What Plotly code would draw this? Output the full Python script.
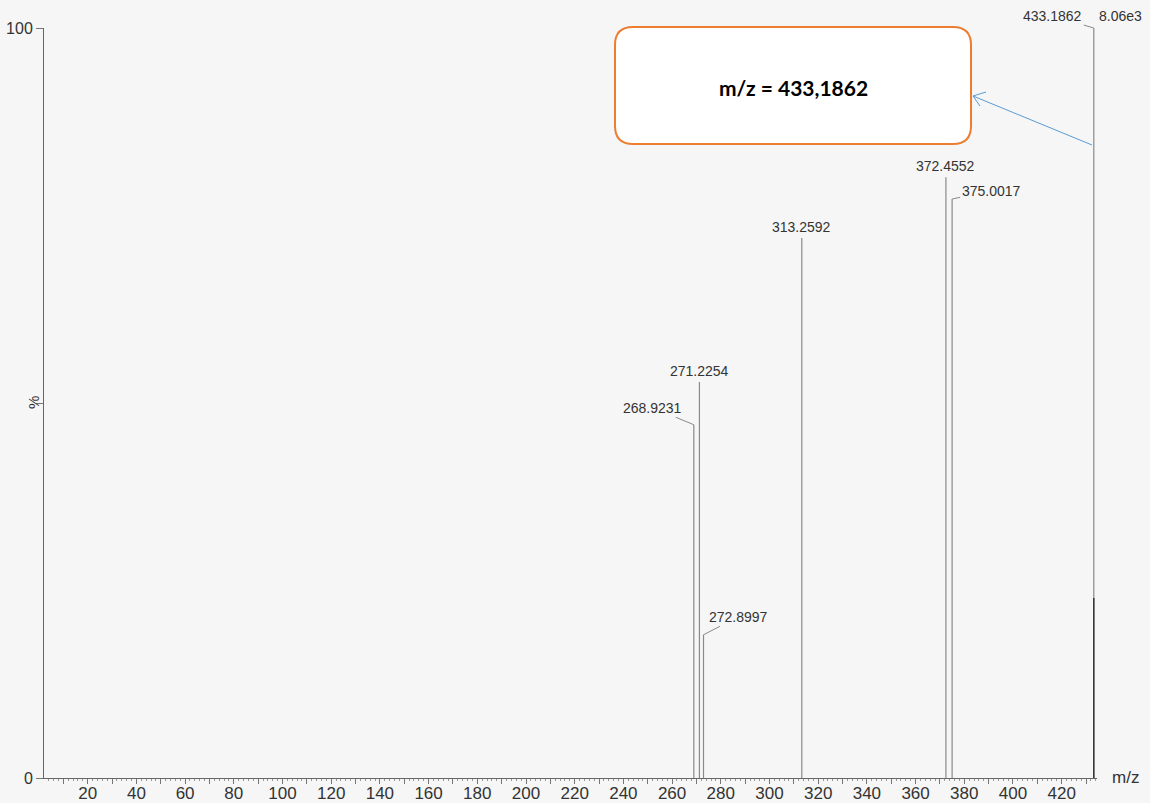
import plotly.graph_objects as go

# Centroided peaks: m/z and relative intensity (%)
peak_mz = [268.9231, 271.2254, 272.8997, 313.2592, 372.4552, 375.0017, 433.1862]
peak_int = [47.1, 52.8, 19.1, 72.0, 80.1, 77.2, 100.0]
peak_labels = ["268.9231", "271.2254", "272.8997", "313.2592", "372.4552", "375.0017", "433.1862"]
# label offsets in pixels (dx, dy); (0, 0) means label sits straight above the peak
label_offsets = [(-41, -17), (0, 0), (35, -18), (0, 0), (0, 0), (39, -8), (-41, -12)]

# darker overlapping trace at the base peak
overlay_mz = [433.1862]
overlay_int = [24.0]

base_intensity = "8.06e3"
callout_text = "m/z = 433,1862"

x_tick_vals = list(range(10, 431, 10))
x_tick_text = [str(v) if v % 20 == 0 else "" for v in x_tick_vals]

W, H = 1150, 803
L, R, T, B = 44, 53, 28, 25
PW, PH = W - L - R, H - T - B


def px(x):
    return (x - L) / PW


def py(y):
    return (H - B - y) / PH


def stems(xs, ys):
    sx, sy = [], []
    for x, y in zip(xs, ys):
        sx += [x, x, None]
        sy += [0, y, None]
    return sx, sy


fig = go.Figure()

sx, sy = stems(peak_mz, peak_int)
fig.add_trace(go.Scatter(x=sx, y=sy, mode="lines",
                         line=dict(color="#8a8a8a", width=1.2),
                         hoverinfo="skip", showlegend=False, cliponaxis=False))
ox, oy = stems(overlay_mz, overlay_int)
fig.add_trace(go.Scatter(x=ox, y=oy, mode="lines",
                         line=dict(color="#2e2e2e", width=1.4),
                         hoverinfo="skip", showlegend=False, cliponaxis=False))

FAM = "Liberation Sans, Arial, sans-serif"
font = dict(family=FAM, size=14, color="#333333")

for m, h, lab, (dx, dy) in zip(peak_mz, peak_int, peak_labels, label_offsets):
    if dx == 0 and dy == 0:
        fig.add_annotation(x=m, y=h, text=lab, showarrow=False, yanchor="bottom",
                           xanchor="center", yshift=1, font=font)
    else:
        fig.add_annotation(x=m, y=h, text=lab, showarrow=True, arrowhead=0,
                           arrowwidth=1, arrowcolor="#8a8a8a", ax=dx, ay=dy,
                           standoff=0, font=font)


def paper_text(x, y, text, fnt, **kw):
    fig.add_annotation(xref="paper", yref="paper", x=px(x), y=py(y), text=text,
                       xanchor="center", yanchor="middle", showarrow=False,
                       font=fnt, **kw)


paper_text(1120, 16, base_intensity, font)
paper_text(1125, 777, "m/z", dict(family=FAM, size=17, color="#333333"))
paper_text(33, 403, "%", dict(family=FAM, size=15, color="#333333"), textangle=-90)

# callout box with rounded corners
x0, x1, y0, y1, r = 615, 971, 27, 144, 18
path = (f"M {px(x0 + r)} {py(y0)} L {px(x1 - r)} {py(y0)} "
        f"Q {px(x1)} {py(y0)} {px(x1)} {py(y0 + r)} "
        f"L {px(x1)} {py(y1 - r)} Q {px(x1)} {py(y1)} {px(x1 - r)} {py(y1)} "
        f"L {px(x0 + r)} {py(y1)} Q {px(x0)} {py(y1)} {px(x0)} {py(y1 - r)} "
        f"L {px(x0)} {py(y0 + r)} Q {px(x0)} {py(y0)} {px(x0 + r)} {py(y0)} Z")
fig.add_shape(type="path", path=path, xref="paper", yref="paper",
              line=dict(color="#ED7D31", width=2), fillcolor="white", layer="above")
paper_text((x0 + x1) / 2, 88, f"<b>{callout_text}</b>",
           dict(family="Lato, Open Sans, sans-serif", size=21, color="#000000"))

# pointer arrow from the base peak to the callout
tail = (1092, 145)
head = (973, 96)
fig.add_shape(type="line", xref="paper", yref="paper",
              x0=px(tail[0]), y0=py(tail[1]), x1=px(head[0]), y1=py(head[1]),
              line=dict(color="#5B9BD5", width=1))
fig.add_shape(type="path", xref="paper", yref="paper",
              path=(f"M {px(head[0] + 13)} {py(head[1] - 4)} L {px(head[0])} {py(head[1])} "
                    f"L {px(head[0] + 7)} {py(head[1] + 10)}"),
              line=dict(color="#5B9BD5", width=1))

fig.update_layout(
    width=W, height=H,
    margin=dict(l=L, r=R, t=T, b=B, autoexpand=False),
    paper_bgcolor="#f6f6f6", plot_bgcolor="#f6f6f6",
    showlegend=False,
    xaxis=dict(range=[2.05, 434.5], showgrid=False, zeroline=False, automargin=False,
               showline=True, linecolor="#666666", linewidth=1,
               tickmode="array", tickvals=x_tick_vals, ticktext=x_tick_text,
               ticks="outside", ticklen=5, tickcolor="#777777", tickwidth=1,
               ticklabelstandoff=-5,
               minor=dict(dtick=2, tick0=0, ticks="outside", ticklen=2,
                          tickcolor="#999999", tickwidth=1),
               tickfont=dict(family=FAM, size=17, color="#333333")),
    yaxis=dict(range=[0, 100], showgrid=False, zeroline=False, automargin=False,
               showline=True, linecolor="#666666", linewidth=1,
               tickmode="array", tickvals=[0, 50, 100], ticktext=["0", "", "100"],
               ticks="outside", ticklen=7, tickcolor="#777777",
               tickfont=dict(family=FAM, size=16, color="#333333")),
)

fig.write_html("out.html")
